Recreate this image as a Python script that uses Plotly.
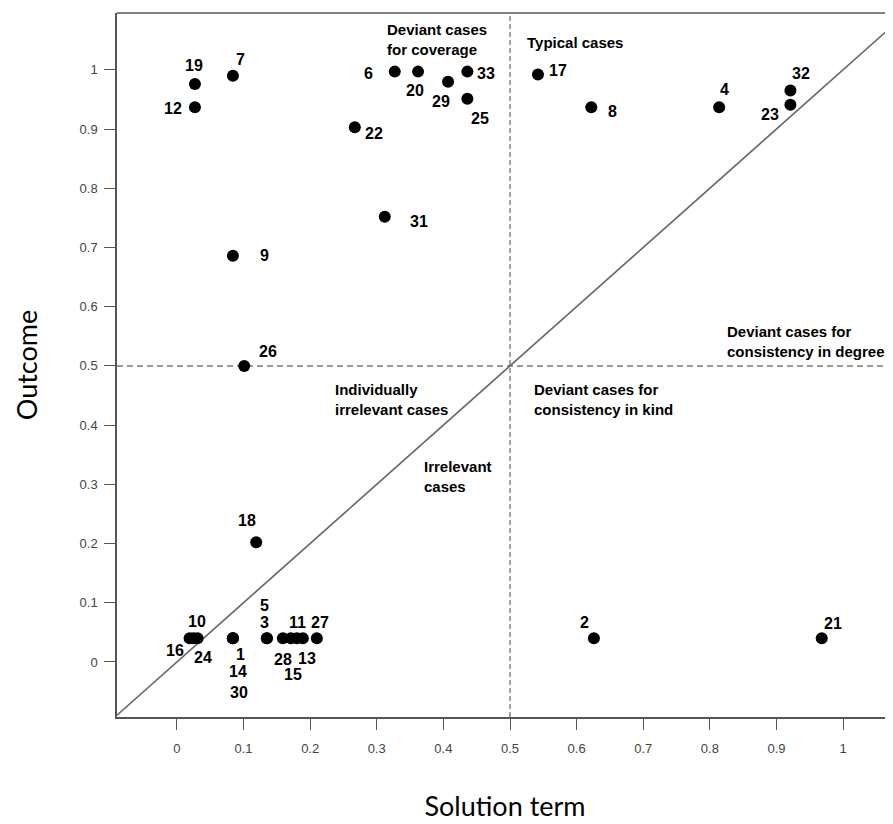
import plotly.graph_objects as go

# ---- data ----
case_ids = [str(i) for i in range(1, 34)]
solution_term = [0.084, 0.626, 0.135, 0.814, 0.135, 0.327, 0.084, 0.622, 0.084, 0.025,
                 0.180, 0.027, 0.189, 0.084, 0.171, 0.019, 0.542, 0.119, 0.027, 0.362,
                 0.968, 0.267, 0.921, 0.031, 0.436, 0.101, 0.210, 0.159, 0.407, 0.084,
                 0.312, 0.921, 0.436]
outcome = [0.040, 0.040, 0.040, 0.937, 0.040, 0.997, 0.990, 0.937, 0.686, 0.040,
           0.040, 0.937, 0.040, 0.040, 0.040, 0.040, 0.992, 0.202, 0.976, 0.997,
           0.040, 0.903, 0.941, 0.040, 0.951, 0.500, 0.040, 0.040, 0.980, 0.040,
           0.752, 0.965, 0.997]

x_ticks = [0, 0.1, 0.2, 0.3, 0.4, 0.5, 0.6, 0.7, 0.8, 0.9, 1]
x_tick_text = ["0", "0.1", "0.2", "0.3", "0.4", "0.5", "0.6", "0.7", "0.8", "0.9", "1"]
y_ticks = [0, 0.1, 0.2, 0.3, 0.4, 0.5, 0.6, 0.7, 0.8, 0.9, 1]
y_tick_text = ["0", "0.1", "0.2", "0.3", "0.4", "0.5", "0.6", "0.7", "0.8", "0.9", "1"]

threshold = 0.5
region_texts = ["Deviant cases<br>for coverage", "Typical cases",
                "Deviant cases for<br>consistency in degree",
                "Individually<br>irrelevant cases",
                "Deviant cases for<br>consistency in kind",
                "Irrelevant<br>cases"]

# ---- styling / placement (pixel offsets of case labels, region label anchors) ----
label_dx = [8, -9, -2, 5, -2, -26, 8, 21, 32, 3, 1, -22, 4, 5, 2, -15, 20, -9, -1, -3,
            11, 19, -20, 5, 13, 24, 3, 0, -7, 6, 34, 11, 19]
label_dy = [-16, 16, 16, 18, 33, -2, 16, -4, 0, 17, 16, -1, -20, -33, -36, -12, 4, 22, 19, -19,
            15, -6, -10, -19, -20, 14, 16, -21, -20, -54, -5, 17, -2]
region_pos = [(0.312, 1.052), (0.523, 1.046), (0.823, 0.541),
              (0.234, 0.444), (0.5335, 0.444), (0.368, 0.313)]

x_range = [-0.09, 1.075]
y_range = [-0.093, 1.096]

fig = go.Figure()

# reference lines
fig.add_trace(go.Scatter(x=[x_range[0], x_range[1]], y=[threshold, threshold], mode="lines",
                         line=dict(color="#9a9a9a", width=2, dash="6px,4px"),
                         hoverinfo="skip", showlegend=False))
fig.add_trace(go.Scatter(x=[threshold, threshold], y=[y_range[0], y_range[1]], mode="lines",
                         line=dict(color="#444444", width=1, dash="5px,3px"),
                         hoverinfo="skip", showlegend=False))
fig.add_trace(go.Scatter(x=[x_range[0], 1.2], y=[x_range[0], 1.2], mode="lines",
                         line=dict(color="#666666", width=1.6),
                         hoverinfo="skip", showlegend=False))

# cases
fig.add_trace(go.Scatter(x=solution_term, y=outcome, mode="markers",
                         marker=dict(color="black", size=12),
                         text=case_ids, hoverinfo="text", showlegend=False))

annotations = []
for cid, xv, yv, dx, dy in zip(case_ids, solution_term, outcome, label_dx, label_dy):
    annotations.append(dict(x=xv, y=yv, xref="x", yref="y", text=cid, showarrow=False,
                            xshift=dx, yshift=dy,
                            font=dict(family="Liberation Sans, Arial", size=16, color="black",
                                      weight="bold")))
for txt, (px, py) in zip(region_texts, region_pos):
    annotations.append(dict(x=px, y=py, xref="x", yref="y", text=txt, showarrow=False,
                            xanchor="left", yanchor="middle", align="left",
                            font=dict(family="Liberation Sans, Arial", size=15, color="black",
                                      weight="bold")))

fig.update_layout(
    width=885, height=816,
    margin=dict(l=109, r=0, t=5, b=107),
    paper_bgcolor="white", plot_bgcolor="white",
    annotations=annotations,
    shapes=[dict(type="line", xref="paper", yref="paper", x0=0, x1=1, y0=1, y1=1,
                 line=dict(color="#555555", width=1.5))],
    xaxis=dict(range=x_range, tickvals=x_ticks, ticktext=x_tick_text,
               showgrid=False, zeroline=False, showline=True, linecolor="#555555", linewidth=1.5,
               ticks="outside", ticklen=11, tickcolor="#555555", tickwidth=1,
               ticklabelstandoff=8,
               tickfont=dict(family="Liberation Sans, Arial", size=13, color="#444444"),
               title=dict(text="Solution term", standoff=42,
                          font=dict(family="Lato, Open Sans", size=27, color="black"))),
    yaxis=dict(range=y_range, tickvals=y_ticks, ticktext=y_tick_text,
               showgrid=False, zeroline=False, showline=True, linecolor="#555555", linewidth=1.5,
               ticks="outside", ticklen=11, tickcolor="#555555", tickwidth=1,
               ticklabelstandoff=4,
               tickfont=dict(family="Liberation Sans, Arial", size=13, color="#444444"),
               title=dict(text="Outcome", standoff=34,
                          font=dict(family="Lato, Open Sans", size=27, color="black"))),
)

fig.write_html("out.html")
